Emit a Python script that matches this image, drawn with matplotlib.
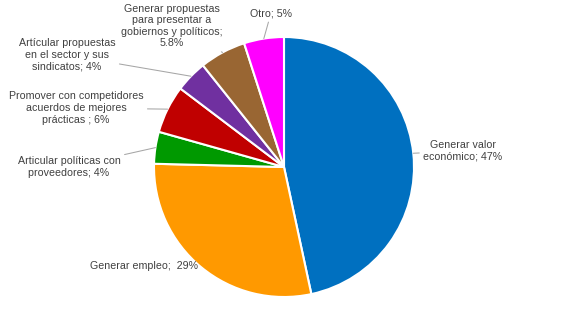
import matplotlib.pyplot as plt
import numpy as np

# Objetivos de la colaboración (porcentaje de respuestas)
labels = [
    "Generar valor\neconómico; 47%",
    "Generar empleo;  29%",
    "Articular políticas con\nproveedores; 4%",
    "Promover con competidores\nacuerdos de mejores\nprácticas ; 6%",
    "Artícular propuestas\nen el sector y sus\nsindicatos; 4%",
    "Generar propuestas\npara presentar a\ngobiernos y políticos;\n5.8%",
    "Otro; 5%",
]
values = [47, 29, 4, 6, 4, 5.8, 5]
colors = ["#0070C0", "#FF9900", "#009900", "#C00000", "#7030A0", "#996633", "#FF00FF"]

# label centres in pixel coords (y measured from the top)
label_pos = [(463, 151), (144, 266), (69, 167), (76, 108), (67, 55), (172, 26), (271, 13)]
# the employment label sits right against its wedge, so it has no leader
leader = [True, False, True, True, True, True, True]

W, H = 567, 333
CX, CY, R = 284, 166, 130

plt.rcParams['font.family'] = ['Liberation Sans', 'DejaVu Sans']

fig = plt.figure(figsize=(W / 100, H / 100), dpi=100)
ax = fig.add_axes([0, 0, 1, 1])

wedges, _ = ax.pie(values, colors=colors, startangle=90, counterclock=False,
                   center=(CX, CY), radius=R,
                   wedgeprops=dict(edgecolor='white', linewidth=1.5))

ax.set_xlim(0, W)
ax.set_ylim(0, H)
ax.set_aspect('equal')
ax.axis('off')

for w, lab, (tx, ty), has_line in zip(wedges, labels, label_pos, leader):
    mid = np.deg2rad((w.theta1 + w.theta2) / 2)
    px = CX + R * np.cos(mid)
    py = CY + R * np.sin(mid)
    arrow = None
    if has_line:
        arrow = dict(arrowstyle='-', color='#A6A6A6', lw=0.75, shrinkA=1, shrinkB=0)
    ax.annotate(lab, xy=(px, py), xytext=(tx, H - ty),
                ha='center', va='center', fontsize=7.7, color='#404040',
                linespacing=1.2, arrowprops=arrow)

fig.savefig('out.png', dpi=100)
